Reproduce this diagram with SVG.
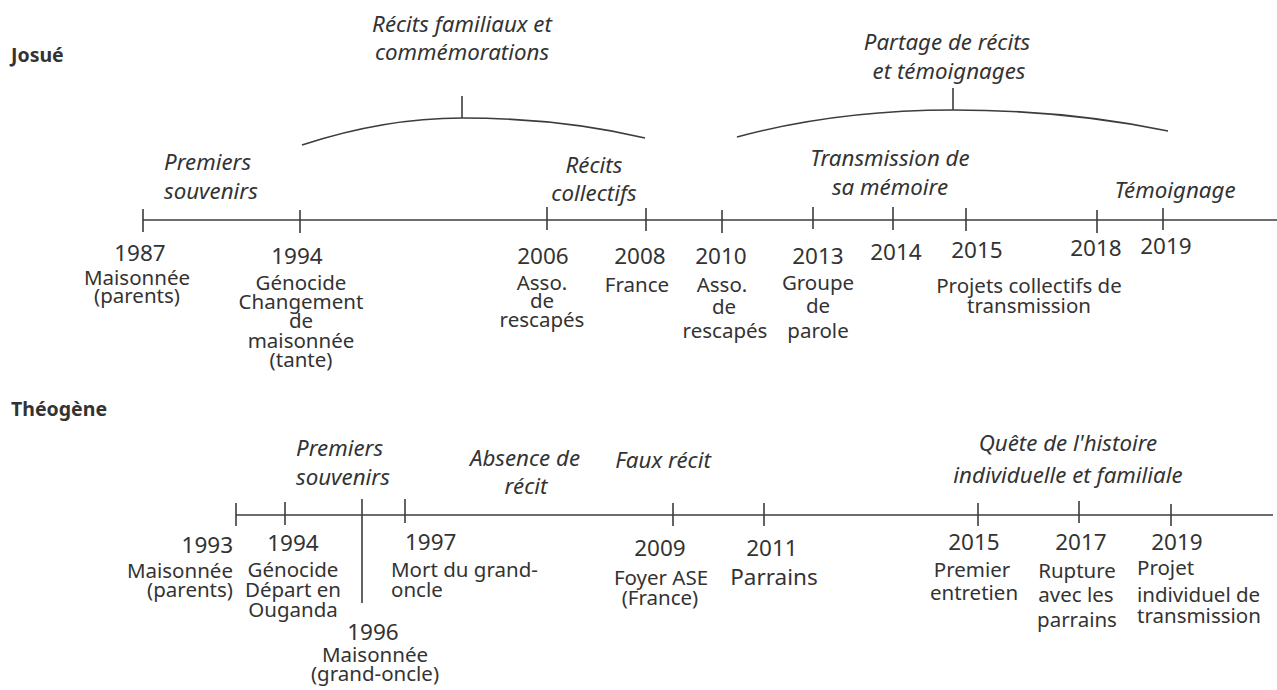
<svg xmlns="http://www.w3.org/2000/svg" width="1277" height="690" viewBox="0 0 1277 690">
<style>
text{font-family:"Noto Sans","Open Sans","Liberation Sans",sans-serif;fill:#333}
.name{font-weight:bold;font-size:19.5px}
.yr{font-size:22.5px;text-anchor:middle}
.lb{font-size:20.5px;text-anchor:middle}
.ph{font-size:22.3px;font-style:italic;text-anchor:middle}
.st{text-anchor:start}
.en{text-anchor:end}
.ln{stroke:#3c3c3c;stroke-width:1.6;fill:none}
</style>
<rect width="1277" height="690" fill="#fff"/>

<g id="connectors">
  <line class="ln" x1="143" y1="220" x2="1277" y2="220"/>
  <line class="ln" x1="143" y1="209" x2="143" y2="232"/>
  <line class="ln" x1="300" y1="210" x2="300" y2="233"/>
  <line class="ln" x1="547" y1="207" x2="547" y2="230"/>
  <line class="ln" x1="646" y1="208" x2="646" y2="231"/>
  <line class="ln" x1="722" y1="210" x2="722" y2="233"/>
  <line class="ln" x1="813" y1="207" x2="813" y2="229"/>
  <line class="ln" x1="893" y1="207" x2="893" y2="230"/>
  <line class="ln" x1="966" y1="208" x2="966" y2="231"/>
  <line class="ln" x1="1097" y1="210" x2="1097" y2="233"/>
  <line class="ln" x1="1163" y1="208" x2="1163" y2="230"/>
  <path class="ln" d="M302,145 C360,126 410,118 462,118 C530,118 590,125 645,138"/>
  <line class="ln" x1="462" y1="96" x2="462" y2="118"/>
  <path class="ln" d="M737,137 C800,120 870,110 953,110 C1040,110 1110,119 1168,131"/>
  <line class="ln" x1="953" y1="88" x2="953" y2="110"/>

  <line class="ln" x1="236" y1="515" x2="1273" y2="515"/>
  <line class="ln" x1="236" y1="503" x2="236" y2="526"/>
  <line class="ln" x1="285" y1="502" x2="285" y2="525"/>
  <line class="ln" x1="362" y1="499" x2="362" y2="603"/>
  <line class="ln" x1="405" y1="499" x2="405" y2="523"/>
  <line class="ln" x1="673" y1="503" x2="673" y2="526"/>
  <line class="ln" x1="764" y1="503" x2="764" y2="526"/>
  <line class="ln" x1="978" y1="503" x2="978" y2="526"/>
  <line class="ln" x1="1079" y1="501" x2="1079" y2="523"/>
  <line class="ln" x1="1171" y1="504" x2="1171" y2="526"/>
</g>

<g id="josue">
  <text class="name" x="11" y="62">Josué</text>
</g>
<g id="phase-recits-familiaux">
  <text class="ph" x="462" y="32">Récits familiaux et</text>
  <text class="ph" x="462" y="60">commémorations</text>
</g>
<g id="phase-partage">
  <text class="ph" x="947" y="50">Partage de récits</text>
  <text class="ph" x="949" y="79">et témoignages</text>
</g>
<g id="phase-premiers-souvenirs-j">
  <text class="ph st" x="164" y="170">Premiers</text>
  <text class="ph st" x="164" y="199">souvenirs</text>
</g>
<g id="phase-recits-collectifs">
  <text class="ph" x="594" y="173">Récits</text>
  <text class="ph" x="594" y="201">collectifs</text>
</g>
<g id="phase-transmission">
  <text class="ph" x="890" y="166">Transmission de</text>
  <text class="ph" x="890" y="195">sa mémoire</text>
</g>
<g id="phase-temoignage">
  <text class="ph" x="1175" y="198">Témoignage</text>
</g>

<g id="j1987">
  <text class="yr" x="140" y="261">1987</text>
  <text class="lb" x="137" y="285">Maisonnée</text>
  <text class="lb" x="137" y="303">(parents)</text>
</g>
<g id="j1994">
  <text class="yr" x="297" y="264">1994</text>
  <text class="lb" x="301" y="290">Génocide</text>
  <text class="lb" x="301" y="309">Changement</text>
  <text class="lb" x="301" y="328">de</text>
  <text class="lb" x="301" y="348">maisonnée</text>
  <text class="lb" x="301" y="367">(tante)</text>
</g>
<g id="j2006">
  <text class="yr" x="543" y="264">2006</text>
  <text class="lb" x="542" y="290">Asso.</text>
  <text class="lb" x="542" y="308">de</text>
  <text class="lb" x="542" y="327">rescapés</text>
</g>
<g id="j2008">
  <text class="yr" x="640" y="264">2008</text>
  <text class="lb" x="637" y="292">France</text>
</g>
<g id="j2010">
  <text class="yr" x="721" y="264">2010</text>
  <text class="lb" x="722" y="292">Asso.</text>
  <text class="lb" x="724" y="314">de</text>
  <text class="lb" x="725" y="338">rescapés</text>
</g>
<g id="j2013">
  <text class="yr" x="818" y="264">2013</text>
  <text class="lb" x="818" y="290">Groupe</text>
  <text class="lb" x="818" y="313">de</text>
  <text class="lb" x="818" y="338">parole</text>
</g>
<g id="j2014">
  <text class="yr" x="896" y="260">2014</text>
</g>
<g id="j2015">
  <text class="yr" x="977" y="258">2015</text>
  <text class="lb" x="1029" y="293">Projets collectifs de</text>
  <text class="lb" x="1029" y="313">transmission</text>
</g>
<g id="j2018">
  <text class="yr" x="1096" y="256">2018</text>
</g>
<g id="j2019">
  <text class="yr" x="1166" y="254">2019</text>
</g>

<g id="theogene">
  <text class="name" x="11" y="416">Théogène</text>
</g>
<g id="phase-premiers-souvenirs-t">
  <text class="ph st" x="296" y="456">Premiers</text>
  <text class="ph st" x="296" y="485">souvenirs</text>
</g>
<g id="phase-absence">
  <text class="ph" x="525" y="466">Absence de</text>
  <text class="ph" x="526" y="494">récit</text>
</g>
<g id="phase-faux-recit">
  <text class="ph" x="663" y="468">Faux récit</text>
</g>
<g id="phase-quete">
  <text class="ph" x="1068" y="451">Quête de l'histoire</text>
  <text class="ph" x="1068" y="483">individuelle et familiale</text>
</g>

<g id="t1993">
  <text class="yr en" x="233" y="553">1993</text>
  <text class="lb en" x="233" y="578">Maisonnée</text>
  <text class="lb en" x="233" y="597">(parents)</text>
</g>
<g id="t1994">
  <text class="yr" x="293" y="551">1994</text>
  <text class="lb" x="293" y="577">Génocide</text>
  <text class="lb" x="293" y="597">Départ en</text>
  <text class="lb" x="293" y="617">Ouganda</text>
</g>
<g id="t1996">
  <text class="yr" x="373" y="640">1996</text>
  <text class="lb" x="375" y="662">Maisonnée</text>
  <text class="lb" x="375" y="681">(grand-oncle)</text>
</g>
<g id="t1997">
  <text class="yr st" x="405" y="550">1997</text>
  <text class="lb st" x="391" y="577">Mort du grand-</text>
  <text class="lb st" x="391" y="597">oncle</text>
</g>
<g id="t2009">
  <text class="yr" x="660" y="556">2009</text>
  <text class="lb" x="661" y="585">Foyer ASE</text>
  <text class="lb" x="660" y="605">(France)</text>
</g>
<g id="t2011">
  <text class="yr" x="772" y="556">2011</text>
  <text class="yr" x="774" y="585">Parrains</text>
</g>
<g id="t2015">
  <text class="yr" x="974" y="550">2015</text>
  <text class="lb" x="972" y="577">Premier</text>
  <text class="lb" x="974" y="600">entretien</text>
</g>
<g id="t2017">
  <text class="yr" x="1081" y="550">2017</text>
  <text class="lb" x="1077" y="578">Rupture</text>
  <text class="lb" x="1076" y="602">avec les</text>
  <text class="lb" x="1077" y="627">parrains</text>
</g>
<g id="t2019">
  <text class="yr" x="1177" y="550">2019</text>
  <text class="lb st" x="1137" y="575">Projet</text>
  <text class="lb st" x="1137" y="602">individuel de</text>
  <text class="lb st" x="1137" y="623">transmission</text>
</g>
</svg>
